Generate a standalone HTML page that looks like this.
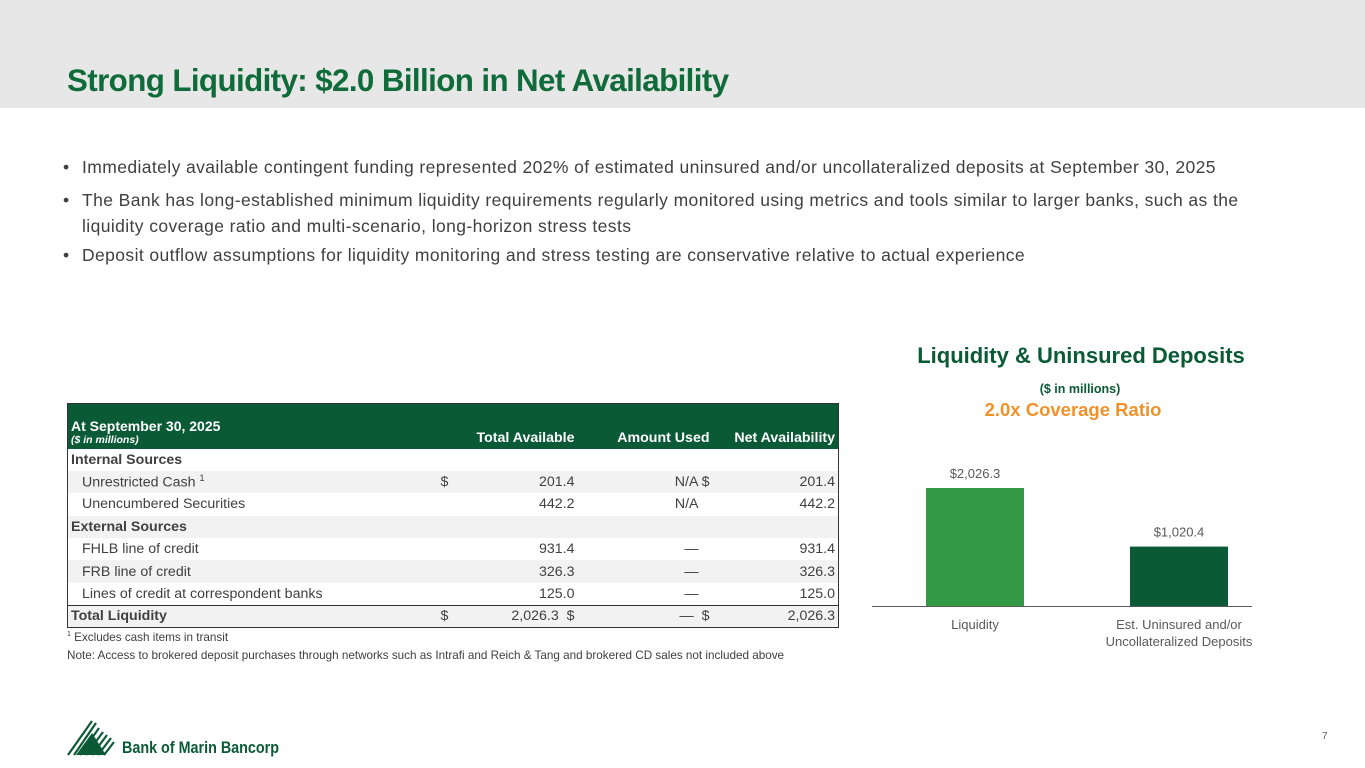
<!DOCTYPE html>
<html><head><meta charset="utf-8"><style>
*{margin:0;padding:0;box-sizing:border-box}
body{width:1365px;height:768px;position:relative;background:#fff;font-family:"Liberation Sans",sans-serif;overflow:hidden;color:#404040}
.band{position:absolute;left:0;top:0;width:1365px;height:108px;background:#e7e7e7}
.title{position:absolute;left:67px;top:63px;font-size:31.3px;font-weight:bold;color:#0f6b3a;letter-spacing:-0.6px}
.bul{position:absolute;left:63px;font-size:17.5px;letter-spacing:0.4px;color:#404040;line-height:26px;width:1260px}
.bul span.d{display:inline-block;width:19px}
.sub{padding-left:19px}
table{position:absolute;left:67px;top:403px;width:772px;border-collapse:collapse;font-size:14.2px;border:1.5px solid #333}
td{height:22.4px;padding:0 3px;white-space:nowrap}
tr.h td{background:#0b5a36;color:#fff;font-weight:bold;height:45px;vertical-align:bottom;padding-bottom:3px}
tr.g td{background:#f2f2f2}
.r{text-align:right}
.b{font-weight:bold}
tr.t td{border-top:1.5px solid #333;font-weight:normal;background:#f2f2f2}
.note{position:absolute;left:67px;font-size:11.7px;color:#404040}
</style></head><body>
<div class="band"></div>
<div class="title">Strong Liquidity: $2.0 Billion in Net Availability</div>
<div class="bul" style="top:154px"><span class="d">•</span>Immediately available contingent funding represented 202% of estimated uninsured and/or uncollateralized deposits at September 30, 2025</div>
<div class="bul" style="top:187px"><span class="d">•</span>The Bank has long-established minimum liquidity requirements regularly monitored using metrics and tools similar to larger banks, such as the<div class="sub">liquidity coverage ratio and multi-scenario, long-horizon stress tests</div></div>
<div class="bul" style="top:242px"><span class="d">•</span>Deposit outflow assumptions for liquidity monitoring and stress testing are conservative relative to actual experience</div>

<table>
<tr class="h"><td style="width:370px"><div style="font-size:14px">At September 30, 2025</div><div style="font-size:10.5px;font-style:italic">($ in millions)</div></td><td style="width:20px"></td><td class="r" style="width:120px">Total Available</td><td class="r" style="width:135px">Amount Used</td><td class="r">Net Availability</td></tr>
<tr><td class="b">Internal Sources</td><td></td><td></td><td></td><td></td></tr>
<tr class="g"><td style="padding-left:14px">Unrestricted Cash <sup style="font-size:9px">1</sup></td><td>$</td><td class="r">201.4</td><td class="r">N/A $</td><td class="r">201.4</td></tr>
<tr><td style="padding-left:14px">Unencumbered Securities</td><td></td><td class="r">442.2</td><td class="r" style="padding-right:14px">N/A</td><td class="r">442.2</td></tr>
<tr class="g"><td class="b">External Sources</td><td></td><td></td><td></td><td></td></tr>
<tr><td style="padding-left:14px">FHLB line of credit</td><td></td><td class="r">931.4</td><td class="r" style="padding-right:14px">—</td><td class="r">931.4</td></tr>
<tr class="g"><td style="padding-left:14px">FRB line of credit</td><td></td><td class="r">326.3</td><td class="r" style="padding-right:14px">—</td><td class="r">326.3</td></tr>
<tr><td style="padding-left:14px">Lines of credit at correspondent banks</td><td></td><td class="r">125.0</td><td class="r" style="padding-right:14px">—</td><td class="r">125.0</td></tr>
<tr class="t"><td class="b" style="font-weight:bold">Total Liquidity</td><td>$</td><td class="r">2,026.3 &nbsp;$</td><td class="r">— &nbsp;$</td><td class="r">2,026.3</td></tr>
</table>
<div class="note" style="top:631px"><sup style="font-size:7px">1</sup> Excludes cash items in transit</div>
<div class="note" style="top:649px">Note: Access to brokered deposit purchases through networks such as Intrafi and Reich &amp; Tang and brokered CD sales not included above</div>

<svg id="chart" width="1365" height="768" style="position:absolute;left:0;top:0">
<text x="1081" y="363" text-anchor="middle" font-size="22" font-weight="bold" fill="#0b5a36" font-family="Liberation Sans">Liquidity &amp; Uninsured Deposits</text>
<text x="1080" y="393" text-anchor="middle" font-size="12.5" font-weight="bold" fill="#0b5a36" font-family="Liberation Sans">($ in millions)</text>
<text x="1073" y="416" text-anchor="middle" font-size="18.5" font-weight="bold" fill="#f0922b" font-family="Liberation Sans">2.0x Coverage Ratio</text>
<line x1="872" y1="606.5" x2="1252" y2="606.5" stroke="#595959" stroke-width="1"/>
<g id="bars"></g>
</svg>

<svg width="230" height="50" style="position:absolute;left:62px;top:715px">
<g stroke="#0b5a36" stroke-width="2.2">
<line x1="6" y1="40" x2="30" y2="6"/><line x1="12" y1="40" x2="34" y2="8"/><line x1="18" y1="40" x2="37" y2="13"/><line x1="24" y1="40" x2="41" y2="17"/><line x1="30" y1="40" x2="45" y2="20"/><line x1="36" y1="40" x2="49" y2="23"/><line x1="42" y1="40" x2="52" y2="27"/>
</g>
<polygon points="14,40 30,18 44,40" fill="#0b5a36"/>
<text x="60" y="38" font-size="17" font-weight="bold" fill="#0b5a36" font-family="Liberation Sans" textLength="157" lengthAdjust="spacingAndGlyphs">Bank of Marin Bancorp</text>
</svg>
<div style="position:absolute;left:1322px;top:731px;font-size:10px;color:#595959">7</div>

<script>
const categories = ["Liquidity", "Est. Uninsured and/or|Uncollateralized Deposits"];
const values = [2026.3, 1020.4];
const valueLabels = ["$2,026.3", "$1,020.4"];
const colors = ["#339944", "#0b5a36"];
const NS = "http://www.w3.org/2000/svg";
const baseY = 606, pxPerUnit = 118 / 2026.3;
const y = v => baseY - v * pxPerUnit;
const xCenter = i => 975 + i * 204;
const barW = 98;
const g = document.getElementById("bars");
values.forEach((v, i) => {
  const r = document.createElementNS(NS, "rect");
  r.setAttribute("x", xCenter(i) - barW / 2);
  r.setAttribute("y", y(v));
  r.setAttribute("width", barW);
  r.setAttribute("height", baseY - y(v));
  r.setAttribute("fill", colors[i]);
  
  
  g.appendChild(r);
  const t = document.createElementNS(NS, "text");
  t.setAttribute("x", xCenter(i));
  t.setAttribute("y", y(v) - 10);
  t.setAttribute("text-anchor", "middle");
  t.setAttribute("font-size", "13");
  t.setAttribute("fill", "#595959");
  t.setAttribute("font-family", "Liberation Sans");
  t.textContent = valueLabels[i];
  
  
  g.appendChild(t);
  categories[i].split("|").forEach((line, k) => {
    const c = document.createElementNS(NS, "text");
    c.setAttribute("x", xCenter(i));
    c.setAttribute("y", 629 + k * 17);
    c.setAttribute("text-anchor", "middle");
    c.setAttribute("font-size", "13");
    c.setAttribute("fill", "#595959");
    c.setAttribute("font-family", "Liberation Sans");
    c.textContent = line;
    
    
    g.appendChild(c);
  });
});
</script>
</body></html>
